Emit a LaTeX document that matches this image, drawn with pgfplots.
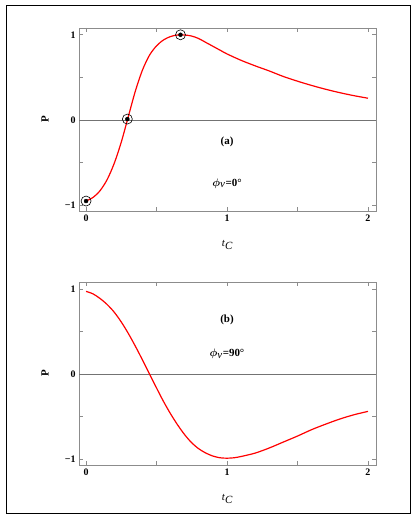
\documentclass[border=0pt]{standalone}
\usepackage{fontspec}
\setmainfont{Liberation Serif}
\usepackage{bm}
\usepackage{pgfplots}
\pgfplotsset{compat=1.18}
\pgfplotsset{
 myaxis/.style={
  scale only axis, width=297bp, height=183bp,
  xmin=-0.05, xmax=2.057, ymin=-1.07, ymax=1.08,
  axis line style={black!45, line width=0.6bp},
  xtick={0,1,2}, minor xtick={0.5,1.5},
  ytick={-1,0,1}, minor ytick={-0.5,0.5},
  yticklabels={−1,0,1}, xticklabels={0,1,2},
  tick style={black!45, line width=0.6bp},
  major tick length=4bp, minor tick length=4bp,
  tick align=inside,
  ticklabel style={font=\fontsize{10}{11}\selectfont\bfseries},
  xlabel={\textit{t}$_{\textit{C}}$}, ylabel={\textbf{P}},
  xlabel style={at={(axis description cs:0.5,-0.186)}, anchor=center, font=\fontsize{11}{12}\selectfont},
  ylabel style={at={(axis description cs:-0.114,0.5)}, anchor=center, font=\fontsize{11}{12}\selectfont},
  clip=false,
 }
}
\begin{document}
\begin{tikzpicture}[x=1bp,y=1bp]
\useasboundingbox (0,0) rectangle (417,518);
\draw[line width=0.8bp] (6,5) rectangle (410,513);

\begin{axis}[myaxis, at={(79bp,307bp)}, anchor=south west]
\addplot[black!55, line width=0.6bp] coordinates {(-0.05,0) (2.057,0)};
\addplot[red, line width=1.2bp, smooth] coordinates {
(0,-0.953)(0.05,-0.91)(0.1,-0.83)(0.15,-0.70)(0.2,-0.51)(0.25,-0.26)(0.3,0.04)(0.35,0.34)(0.4,0.585)(0.45,0.76)(0.5,0.87)(0.55,0.94)(0.6,0.98)(0.65,0.998)(0.7,0.998)(0.75,0.985)(0.8,0.955)(0.85,0.91)(0.9,0.865)(0.95,0.82)(1.0,0.775)(1.1,0.70)(1.2,0.635)(1.3,0.575)(1.4,0.51)(1.5,0.455)(1.6,0.405)(1.7,0.36)(1.8,0.32)(1.9,0.285)(2.0,0.255)};
\addplot[only marks, mark=o, mark size=5bp, mark options={black, line width=0.6bp}] coordinates {(0,-0.953)(0.293,0.01)(0.67,1.0)};
\addplot[only marks, mark=*, mark size=2bp, mark options={black}] coordinates {(0,-0.953)(0.293,0.01)(0.67,1.0)};
\node[font=\fontsize{11}{12}\selectfont\bfseries] at (axis cs:1,-0.255) {(a)};
\node[font=\fontsize{11}{12}\selectfont] at (axis cs:1,-0.745) {$\bm{\phi}_{\textit{v}}$\textbf{=0°}};
\end{axis}

\begin{axis}[myaxis, at={(79bp,53bp)}, anchor=south west]
\addplot[black!55, line width=0.6bp] coordinates {(-0.05,0) (2.057,0)};
\addplot[red, line width=1.2bp, smooth] coordinates {
(0,0.97)(0.05,0.94)(0.1,0.885)(0.15,0.815)(0.2,0.725)(0.25,0.61)(0.3,0.475)(0.35,0.325)(0.4,0.165)(0.45,0.0)(0.5,-0.165)(0.55,-0.325)(0.6,-0.47)(0.65,-0.60)(0.7,-0.715)(0.75,-0.81)(0.8,-0.88)(0.85,-0.93)(0.9,-0.965)(0.95,-0.985)(1.0,-0.99)(1.05,-0.985)(1.1,-0.97)(1.2,-0.93)(1.3,-0.87)(1.4,-0.80)(1.5,-0.73)(1.6,-0.655)(1.7,-0.59)(1.8,-0.53)(1.9,-0.48)(2.0,-0.44)};
\node[font=\fontsize{11}{12}\selectfont\bfseries] at (axis cs:1,0.63) {(b)};
\node[font=\fontsize{11}{12}\selectfont] at (axis cs:1,0.235) {$\bm{\phi}_{\textit{v}}$\textbf{=90°}};
\end{axis}
\end{tikzpicture}
\end{document}
